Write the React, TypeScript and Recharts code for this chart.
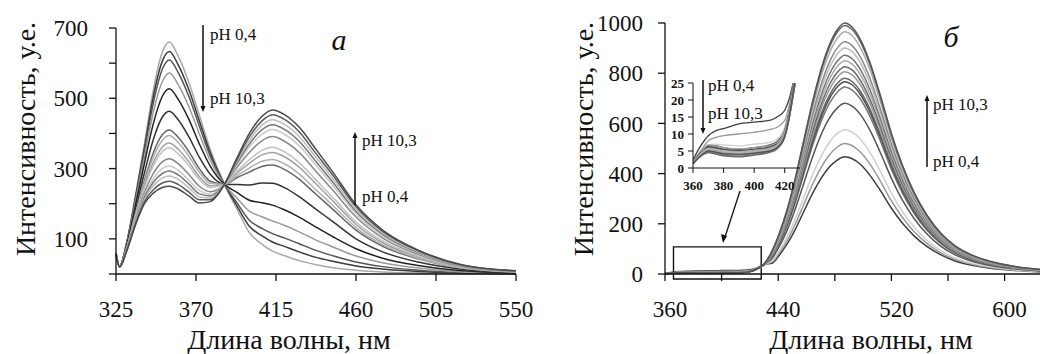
import React from 'react';
import { LineChart, Line, XAxis, YAxis, ReferenceArea } from 'recharts';

// ---------- Panel а: wavelengths (nm) ----------
const wavelengthsA = [325, 327, 331, 336, 341, 346, 351, 355, 360, 366, 372, 378, 386, 393, 400, 407, 413, 420, 428, 437, 447, 460, 475, 495, 520, 550];

// intensities, pH 0.4 -> pH 10.3
const intensityA1 = [60, 22, 90, 225, 370, 524, 630, 660, 620, 545, 450, 355, 255, 185, 118, 85, 65, 52, 38, 27, 18, 11, 6, 3, 1, 0];
const intensityA2 = [60, 22, 88, 220, 359, 505, 605, 633, 595, 524, 434, 345, 255, 194, 136, 109, 91, 78, 63, 48, 36, 23, 14, 7, 3, 1];
const intensityA3 = [59, 22, 87, 214, 349, 487, 582, 609, 573, 505, 419, 336, 255, 203, 153, 130, 115, 102, 86, 68, 52, 34, 21, 11, 4, 1];
const intensityA4 = [59, 22, 85, 207, 333, 461, 547, 572, 539, 476, 397, 323, 255, 216, 179, 163, 151, 138, 120, 98, 77, 51, 32, 17, 6, 2];
const intensityA5 = [58, 21, 82, 197, 315, 428, 505, 527, 497, 440, 369, 307, 255, 232, 210, 203, 196, 182, 162, 135, 106, 72, 45, 24, 9, 3];
const intensityA6 = [58, 21, 78, 184, 288, 383, 446, 463, 439, 390, 331, 284, 255, 255, 253, 259, 258, 245, 220, 186, 149, 100, 63, 34, 13, 4];
const intensityA7 = [57, 21, 75, 173, 266, 345, 396, 410, 389, 348, 299, 264, 255, 274, 290, 306, 310, 297, 270, 229, 184, 125, 79, 43, 16, 5];
const intensityA8 = [57, 21, 74, 170, 260, 333, 380, 394, 374, 335, 289, 258, 255, 279, 301, 321, 326, 313, 285, 242, 195, 132, 83, 45, 17, 6];
const intensityA9 = [57, 21, 73, 166, 251, 318, 361, 373, 355, 319, 276, 251, 255, 287, 315, 339, 346, 333, 304, 259, 208, 141, 89, 49, 19, 6];
const intensityA10 = [56, 21, 72, 163, 245, 308, 348, 359, 342, 308, 268, 246, 255, 292, 325, 352, 361, 347, 317, 270, 218, 148, 94, 51, 19, 7];
const intensityA11 = [56, 20, 70, 156, 232, 286, 319, 328, 314, 283, 249, 234, 255, 303, 346, 379, 391, 377, 346, 295, 238, 162, 102, 56, 21, 7];
const intensityA12 = [56, 20, 69, 152, 224, 271, 300, 307, 295, 267, 237, 227, 255, 310, 361, 397, 411, 397, 365, 312, 252, 171, 108, 59, 23, 8];
const intensityA13 = [56, 20, 68, 149, 218, 261, 286, 293, 282, 256, 228, 222, 255, 315, 370, 410, 425, 411, 378, 323, 261, 178, 113, 61, 23, 8];
const intensityA14 = [55, 20, 67, 146, 212, 251, 273, 279, 269, 245, 219, 216, 255, 320, 380, 423, 439, 425, 391, 335, 271, 184, 117, 63, 24, 8];
const intensityA15 = [55, 20, 66, 143, 206, 240, 259, 264, 255, 233, 211, 211, 255, 325, 390, 435, 453, 439, 405, 346, 281, 191, 121, 66, 25, 9];
const intensityA16 = [55, 20, 65, 140, 200, 230, 246, 250, 242, 222, 202, 206, 255, 330, 400, 448, 467, 453, 418, 358, 290, 197, 125, 68, 26, 9];

const colorsA = ['#a8a8a8', '#3a3a3a', '#555555', '#9a9a9a', '#222222', '#333333', '#666666', '#b0b0b0', '#a0a0a0', '#c0c0c0', '#888888', '#c8c8c8', '#777777', '#bdbdbd', '#5a5a5a', '#4a4a4a'];

const ticksAX = [325, 370, 415, 460, 505, 550];
const ticksAY = [0, 100, 200, 300, 400, 500, 600, 700];
const labeledAY = [100, 300, 500, 700];

// ---------- Panel б ----------
const wavelengthsB = [360, 365, 370, 375, 380, 390, 400, 410, 415, 420, 425, 430, 436, 441, 446, 452, 458, 464, 470, 476, 482, 487, 492, 498, 505, 512, 520, 528, 536, 545, 555, 565, 577, 590, 605, 625];

const intensityB1 = [2.4, 6.5, 9.5, 11, 11.6, 13, 13.5, 14, 15, 17, 24, 38, 44, 77, 117, 177, 248, 318, 378, 425, 455, 467, 460, 437, 392, 334, 262, 201, 152, 110, 76, 52, 35, 23, 15, 8];
const intensityB2 = [2, 5, 8, 9, 9.5, 10, 10.5, 11.3, 12, 14, 23, 38, 49, 86, 130, 198, 276, 354, 421, 473, 507, 520, 512, 486, 437, 372, 291, 224, 169, 122, 84, 58, 39, 26, 17, 9];
const intensityB3 = [2, 4.5, 6.5, 7, 6.8, 6.5, 7, 7.5, 8.5, 12, 22, 38, 55, 95, 144, 219, 305, 391, 466, 523, 561, 575, 566, 538, 483, 411, 322, 247, 187, 135, 93, 64, 43, 29, 18, 10];
const intensityB4 = [1.8, 4.5, 6.5, 6.5, 6, 5.5, 6, 6.8, 7.8, 11, 22, 38, 65, 112, 170, 258, 360, 462, 551, 619, 663, 680, 670, 636, 571, 486, 381, 292, 221, 160, 110, 76, 51, 34, 22, 12];
const intensityB5 = [1.6, 4.2, 6, 5.8, 5.4, 5, 5.4, 6, 7, 10.5, 21, 37, 71, 123, 186, 283, 395, 507, 603, 678, 726, 745, 734, 697, 626, 533, 417, 320, 242, 175, 121, 83, 56, 37, 24, 13];
const intensityB6 = [1.8, 4.5, 6.3, 6, 5.5, 5.2, 5.5, 6.3, 7.3, 11, 22, 38, 73, 126, 192, 291, 406, 521, 620, 697, 747, 766, 755, 716, 643, 548, 429, 329, 249, 180, 124, 86, 57, 38, 25, 14];
const intensityB7 = [1.5, 4, 5.6, 5.2, 4.8, 4.5, 5, 5.7, 6.6, 10, 21, 37, 74, 129, 195, 296, 413, 530, 632, 710, 761, 780, 768, 729, 655, 558, 437, 335, 254, 183, 126, 87, 59, 39, 25, 14];
const intensityB8 = [1.7, 4.3, 6.8, 6.5, 6, 5.6, 6, 6.6, 7.5, 11, 22, 38, 77, 133, 202, 306, 427, 548, 653, 733, 786, 806, 794, 754, 677, 576, 451, 347, 262, 189, 131, 90, 60, 40, 26, 15];
const intensityB9 = [1.4, 3.8, 5.2, 4.9, 4.5, 4.2, 4.6, 5.3, 6.2, 9.5, 20, 36, 78, 136, 207, 314, 438, 562, 669, 752, 805, 826, 814, 772, 694, 591, 463, 355, 268, 194, 134, 93, 62, 41, 26, 15];
const intensityB10 = [1.6, 4, 5.8, 5.4, 5, 4.8, 5.2, 5.8, 6.8, 10, 21, 37, 81, 140, 213, 323, 451, 578, 689, 774, 829, 850, 837, 795, 714, 608, 476, 366, 276, 200, 138, 95, 64, 43, 27, 15];
const intensityB11 = [1.3, 3.6, 4.8, 4.5, 4, 3.8, 4.2, 5, 6, 9.5, 20, 37, 83, 144, 218, 331, 462, 593, 706, 794, 850, 872, 859, 815, 732, 623, 488, 375, 283, 205, 141, 98, 65, 44, 28, 16];
const intensityB12 = [1.5, 3.9, 5.5, 5.2, 4.8, 4.5, 4.9, 5.5, 6.5, 10, 21, 38, 86, 149, 225, 342, 477, 612, 729, 819, 878, 900, 887, 842, 756, 644, 504, 387, 293, 212, 146, 101, 68, 45, 29, 16];
const intensityB13 = [1.2, 3.5, 4.6, 4.3, 3.8, 3.5, 4, 4.8, 5.8, 9, 20, 37, 88, 153, 231, 352, 490, 629, 749, 842, 902, 925, 911, 865, 777, 661, 518, 398, 301, 217, 150, 104, 69, 46, 30, 17];
const intensityB14 = [1.4, 3.8, 5.3, 5, 4.6, 4.3, 4.7, 5.3, 6.3, 10, 21, 39, 92, 159, 241, 367, 511, 656, 782, 878, 941, 965, 951, 902, 811, 690, 540, 415, 314, 227, 156, 108, 72, 48, 31, 17];
const intensityB15 = [1.2, 3.4, 4.5, 4.1, 3.6, 3.3, 3.8, 4.6, 5.6, 9, 20, 39, 94, 163, 248, 376, 525, 673, 802, 901, 965, 990, 975, 926, 832, 708, 554, 426, 322, 233, 160, 111, 74, 50, 32, 18];
const intensityB16 = [1.3, 3.6, 5, 4.7, 4.2, 4, 4.4, 5, 6, 9.5, 21, 40, 95, 165, 250, 380, 530, 680, 810, 910, 975, 1000, 985, 935, 840, 715, 560, 430, 325, 235, 162, 112, 75, 50, 32, 18];

const colorsB = ['#3c3c3c', '#999999', '#d0d0d0', '#555555', '#777777', '#4a4a4a', '#666666', '#999999', '#6a6a6a', '#aaaaaa', '#777777', '#bbbbbb', '#888888', '#aaaaaa', '#666666', '#555555'];

const ticksBX = [360, 400, 440, 480, 520, 560, 600];
const labeledBX = [360, 440, 520, 600];
const ticksBY = [0, 200, 400, 600, 800, 1000];
const ticksInsetX = [360, 380, 400, 420];
const ticksInsetY = [0, 5, 10, 15, 20, 25];

const seriesA = [intensityA1, intensityA2, intensityA3, intensityA4, intensityA5, intensityA6, intensityA7, intensityA8, intensityA9, intensityA10, intensityA11, intensityA12, intensityA13, intensityA14, intensityA15, intensityA16];
const seriesB = [intensityB1, intensityB2, intensityB3, intensityB4, intensityB5, intensityB6, intensityB7, intensityB8, intensityB9, intensityB10, intensityB11, intensityB12, intensityB13, intensityB14, intensityB15, intensityB16];

const rowsA = wavelengthsA.map((w, i) => {
  const r: Record<string, number> = { w };
  seriesA.forEach((s, k) => { r['s' + k] = s[i]; });
  return r;
});
const rowsB = wavelengthsB.map((w, i) => {
  const r: Record<string, number> = { w };
  seriesB.forEach((s, k) => { r['s' + k] = s[i]; });
  return r;
});

const FONT = 'Liberation Serif, DejaVu Serif, serif';
const INK = '#111';
const tickStyle = { fontFamily: FONT, fontSize: 23, fill: INK, style: { fontFamily: FONT } };
const insetTick = { fontFamily: FONT, fontSize: 13, fontWeight: 700, fill: INK, style: { fontFamily: FONT, fontWeight: 700 } };
const txt: React.CSSProperties = { fontFamily: FONT };

const DownArrow = ({ x, y1, y2 }: { x: number; y1: number; y2: number }) => (
  <g>
    <line x1={x} y1={y1} x2={x} y2={y2 - 5} stroke={INK} strokeWidth={1.5} />
    <polygon points={`${x - 2.5},${y2 - 6} ${x + 2.5},${y2 - 6} ${x},${y2}`} fill={INK} />
  </g>
);
const UpArrow = ({ x, y1, y2 }: { x: number; y1: number; y2: number }) => (
  <g>
    <line x1={x} y1={y1} x2={x} y2={y2 + 5} stroke={INK} strokeWidth={1.5} />
    <polygon points={`${x - 2.5},${y2 + 6} ${x + 2.5},${y2 + 6} ${x},${y2}`} fill={INK} />
  </g>
);

export default function App() {
  return (
    <div style={{ position: 'fixed', left: 0, top: 0, width: 1040, height: 354, background: '#fff', overflow: 'hidden', fontFamily: FONT }}>
      {/* Panel а */}
      <div style={{ position: 'absolute', left: 0, top: 0 }}>
        <LineChart width={560} height={354} data={rowsA} margin={{ top: 28, right: 44, bottom: 30, left: 0 }}>
          <XAxis dataKey="w" type="number" domain={[325, 550]} ticks={ticksAX} interval={0} height={50}
            tickSize={7} tickMargin={20} tick={tickStyle} axisLine={{ stroke: INK, strokeWidth: 1.3 }} tickLine={{ stroke: INK, strokeWidth: 1.3 }} />
          <YAxis type="number" domain={[0, 700]} ticks={ticksAY} interval={0} width={116}
            tickSize={7} tickMargin={21} tick={tickStyle}
            tickFormatter={(v: number) => (labeledAY.includes(v) ? String(v) : '')}
            axisLine={{ stroke: INK, strokeWidth: 1.3 }} tickLine={{ stroke: INK, strokeWidth: 1.3 }} />
          {seriesA.map((_, k) => (
            <Line key={k} dataKey={'s' + k} type="monotone" stroke={colorsA[k]} strokeWidth={1.5} dot={false} isAnimationActive={false} />
          ))}
        </LineChart>
      </div>

      {/* Panel б */}
      <div style={{ position: 'absolute', left: 560, top: 0 }}>
        <LineChart width={480} height={354} data={rowsB} margin={{ top: 23, right: 0, bottom: 30, left: 0 }}>
          <XAxis dataKey="w" type="number" domain={[360, 625]} ticks={ticksBX} interval={0} height={50}
            tickSize={7} tickMargin={20} tick={{ ...tickStyle, dx: 5 }}
            tickFormatter={(v: number) => (labeledBX.includes(v) ? String(v) : '')}
            axisLine={{ stroke: INK, strokeWidth: 1.3 }} tickLine={{ stroke: INK, strokeWidth: 1.3 }} />
          <YAxis type="number" domain={[0, 1000]} ticks={ticksBY} interval={0} width={105}
            tickSize={7} tickMargin={15} tick={tickStyle}
            axisLine={{ stroke: INK, strokeWidth: 1.3 }} tickLine={{ stroke: INK, strokeWidth: 1.3 }} />
          {seriesB.map((_, k) => (
            <Line key={k} dataKey={'s' + k} type="monotone" stroke={colorsB[k]} strokeWidth={1.5} dot={false} isAnimationActive={false} />
          ))}
          <ReferenceArea x1={366} x2={428} y1={-20} y2={108} ifOverflow="visible" fill="none" fillOpacity={0} stroke={INK} strokeWidth={1.4} />
        </LineChart>
      </div>

      {/* Inset */}
      <div style={{ position: 'absolute', left: 640, top: 60 }}>
        <LineChart width={170} height={140} data={rowsB} margin={{ top: 23, right: 10, bottom: 10, left: 0 }}>
          <XAxis dataKey="w" type="number" domain={[360, 430]} allowDataOverflow ticks={ticksInsetX} interval={0} height={22}
            tickSize={5} tickMargin={8} tick={insetTick} axisLine={{ stroke: INK }} tickLine={{ stroke: INK }} />
          <YAxis type="number" domain={[0, 25]} allowDataOverflow ticks={ticksInsetY} interval={0} width={53}
            tickSize={5} tickMargin={4} tick={insetTick} axisLine={{ stroke: INK }} tickLine={{ stroke: INK }} />
          {seriesB.map((_, k) => (
            <Line key={k} dataKey={'s' + k} type="monotone" stroke={colorsB[k]} strokeWidth={1.3} dot={false} isAnimationActive={false} />
          ))}
        </LineChart>
      </div>

      {/* Annotations & titles */}
      <svg width={1040} height={354} style={{ position: 'absolute', left: 0, top: 0, pointerEvents: 'none' }}>
        <g fill={INK} style={txt}>
          {/* Panel а */}
          <text x={25} y={139} fontSize={28} textAnchor="middle" dominantBaseline="central" transform="rotate(-90 25 139)" style={txt}>Интенсивность, у.е.</text>
          <text x={289} y={349} fontSize={28} textAnchor="middle" style={txt}>Длина волны, нм</text>
          <DownArrow x={203} y1={25} y2={112} />
          <text x={210} y={40} fontSize={17} style={txt}>pH 0,4</text>
          <text x={210} y={104} fontSize={17} style={txt}>pH 10,3</text>
          <UpArrow x={355} y1={205} y2={132} />
          <text x={362} y={146} fontSize={17} style={txt}>pH 10,3</text>
          <text x={362} y={202} fontSize={17} style={txt}>pH 0,4</text>
          <text x={339} y={50} fontSize={30} fontStyle="italic" textAnchor="middle" style={txt}>а</text>

          {/* Panel б */}
          <text x={583} y={139} fontSize={28} textAnchor="middle" dominantBaseline="central" transform="rotate(-90 583 139)" style={txt}>Интенсивность, у.е.</text>
          <text x={871} y={349} fontSize={28} textAnchor="middle" style={txt}>Длина волны, нм</text>
          <text x={951} y={47} fontSize={30} fontStyle="italic" textAnchor="middle" style={txt}>б</text>
          <UpArrow x={927} y1={167} y2={95} />
          <text x={933} y={110} fontSize={17} style={txt}>pH 10,3</text>
          <text x={933} y={167} fontSize={17} style={txt}>pH 0,4</text>
          <DownArrow x={703} y1={80} y2={134} />
          <text x={708} y={91} fontSize={17} style={txt}>pH 0,4</text>
          <text x={708} y={119} fontSize={17} style={txt}>pH 10,3</text>
          <line x1={740} y1={191} x2={725} y2={237} stroke={INK} strokeWidth={1.3} />
          <polygon points="721,234 727,236 723,243" fill={INK} />
        </g>
      </svg>
    </div>
  );
}
